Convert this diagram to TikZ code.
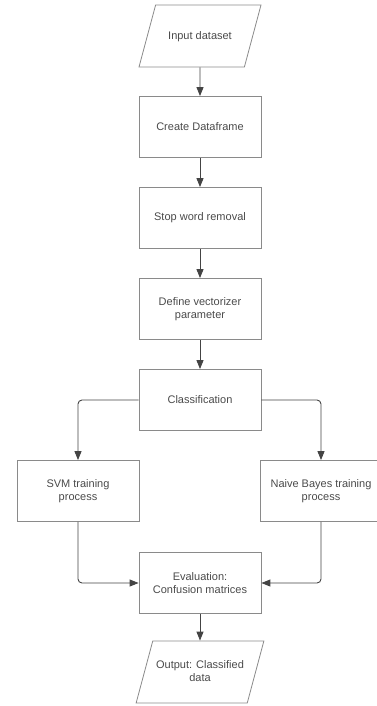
\documentclass[tikz,border=0pt]{standalone}
\usepackage{fontspec}
\setmainfont{Liberation Sans}
\usetikzlibrary{arrows.meta, shapes.geometric}
\definecolor{boxline}{HTML}{8A8A8A}
\definecolor{arrowline}{HTML}{444444}
\definecolor{boxtext}{HTML}{4A4A4A}

\begin{document}
\begin{tikzpicture}[
    ->, >={Triangle[length=9pt,width=7pt]}, node distance=91pt,
    every node/.style={draw=boxline, line width=0.8pt, text=boxtext, align=center, minimum width=122pt, minimum height=61pt, font=\fontsize{11}{13.3}\selectfont},
    slanted/.style={trapezium, trapezium left angle=75, trapezium right angle=105, trapezium stretches body, minimum height=0pt, inner ysep=0pt}
]
\useasboundingbox (0,0) rectangle (377pt,-706pt);
\node (input_dataset) [slanted, text height=35pt, text depth=27pt] at (200pt,-36pt) {Input dataset};
\node (create_dataframe) [rectangle, below of=input_dataset] {Create Dataframe};
\node (stopword_removal) [rectangle, below of=create_dataframe] {Stop word removal};
\node (define_vectorizer) [rectangle, below of=stopword_removal] {Define vectorizer\\parameter};
\node (classification) [rectangle, below of=define_vectorizer] {Classification};
\node (svm_training) [rectangle, below of=classification, xshift=-122pt] {SVM training\\process};
\node (nb_training) [rectangle, below of=classification, xshift=121pt] {Naive Bayes training\\process};
\node (evaluation) [rectangle, below of=classification, yshift=-92pt] {Evaluation:\\Confusion matrices};
\node (output_data) [slanted, text height=40.3pt, text depth=21.7pt, below of=evaluation, yshift=2pt] {Output: Classified\\data};

\draw[->, arrowline, line width=0.9pt] (input_dataset) -- (create_dataframe);
\draw[->, arrowline, line width=0.9pt] (create_dataframe) -- (stopword_removal);
\draw[->, arrowline, line width=0.9pt] (stopword_removal) -- (define_vectorizer);
\draw[->, arrowline, line width=0.9pt] (define_vectorizer) -- (classification);
\draw[->, arrowline, line width=0.9pt, rounded corners=4pt] (classification.west) -| (svm_training);
\draw[->, arrowline, line width=0.9pt, rounded corners=4pt] (classification.east) -| (nb_training);
\draw[->, arrowline, line width=0.9pt, rounded corners=4pt] (svm_training) |- (evaluation.west);
\draw[->, arrowline, line width=0.9pt, rounded corners=4pt] (nb_training) |- (evaluation.east);
\draw[->, arrowline, line width=0.9pt] (evaluation) -- (output_data);
\end{tikzpicture}
\end{document}
